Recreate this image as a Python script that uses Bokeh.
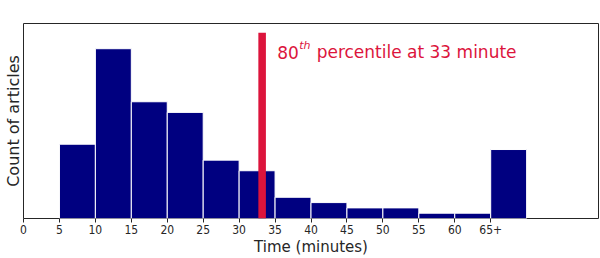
from bokeh.plotting import figure
from bokeh.models import Range1d, FixedTicker, Label
from bokeh.embed import file_html
from bokeh.resources import INLINE

# ---- data ----
BIN_EDGES = [5, 10, 15, 20, 25, 30, 35, 40, 45, 50, 55, 60, 65, 70]
COUNTS = [14, 32, 22, 20, 11, 9, 4, 3, 2, 2, 1, 1, 13]
TICKS = [0, 5, 10, 15, 20, 25, 30, 35, 40, 45, 50, 55, 60, 65]
TICK_LABELS = ["0", "5", "10", "15", "20", "25", "30", "35", "40", "45", "50", "55", "60", "65+"]
PERCENTILE = 80
PCT_VALUE = 33.2
PCT_BAR_TOP = 35
X_MAX = 80
Y_MAX = 36.75

NAVY = "#000080"
CRIMSON = "#DC143C"
DARK = "#262626"

p = figure(width=600, height=258,
           x_range=Range1d(0, X_MAX), y_range=Range1d(0, Y_MAX),
           output_backend="svg", toolbar_location=None, tools="",
           x_axis_label="Time (minutes)", y_axis_label="Count of articles",
           min_border_left=23, min_border_right=2,
           min_border_top=23, min_border_bottom=40)

p.background_fill_color = "white"
p.border_fill_color = "white"
p.outline_line_color = DARK
p.outline_line_width = 1
p.outline_line_alpha = 1.0
p.grid.grid_line_color = None

p.quad(left=BIN_EDGES[:-1], right=BIN_EDGES[1:], bottom=0, top=COUNTS,
       fill_color=NAVY, line_color="white", line_width=1)

p.vbar(x=[PCT_VALUE], width=1.05, bottom=0, top=[PCT_BAR_TOP],
       fill_color=CRIMSON, line_color=None)

ax = p.xaxis[0]
ax.ticker = FixedTicker(ticks=TICKS)
ax.major_label_overrides = {t: l for t, l in zip(TICKS, TICK_LABELS)}
ax.minor_tick_line_color = None
ax.major_tick_in = 0
ax.major_tick_out = 4
ax.major_tick_line_color = DARK
ax.axis_line_color = None
ax.major_label_standoff = 2
ax.major_label_text_font = "'DejaVu Sans Condensed', 'DejaVu Sans'"
ax.major_label_text_font_size = "12px"
ax.major_label_text_color = DARK
ax.axis_label_standoff = 1
ax.axis_label_text_font = "DejaVu Sans"
ax.axis_label_text_font_size = "15px"
ax.axis_label_text_font_style = "normal"
ax.axis_label_text_color = DARK

ay = p.yaxis[0]
ay.ticker = FixedTicker(ticks=[])
ay.major_tick_line_color = None
ay.minor_tick_line_color = None
ay.major_label_text_font_size = "0px"
ay.major_label_standoff = 0
ay.major_tick_out = 0
ay.major_tick_in = 0
ay.axis_line_color = None
ay.axis_label_standoff = 1
ay.axis_label_text_font = "DejaVu Sans"
ay.axis_label_text_font_size = "16px"
ay.axis_label_text_font_style = "normal"
ay.axis_label_text_color = DARK

# percentile annotation
p.add_layout(Label(x=PCT_VALUE, y=PCT_BAR_TOP, x_offset=15, y_offset=-19.5,
                   text=str(PERCENTILE), text_font="DejaVu Sans",
                   text_font_size="17px", text_color=CRIMSON,
                   text_align="left", text_baseline="alphabetic"))
p.add_layout(Label(x=PCT_VALUE, y=PCT_BAR_TOP, x_offset=37, y_offset=-12.5,
                   text="th", text_font="DejaVu Sans", text_font_style="italic",
                   text_font_size="11px", text_color=CRIMSON,
                   text_align="left", text_baseline="alphabetic"))
p.add_layout(Label(x=PCT_VALUE, y=PCT_BAR_TOP, x_offset=54.5, y_offset=-19.5,
                   text=f"percentile at {round(PCT_VALUE)} minute",
                   text_font="DejaVu Sans", text_font_size="17px",
                   text_color=CRIMSON, text_align="left",
                   text_baseline="alphabetic"))

open("out.html", "w").write(file_html(p, INLINE))
